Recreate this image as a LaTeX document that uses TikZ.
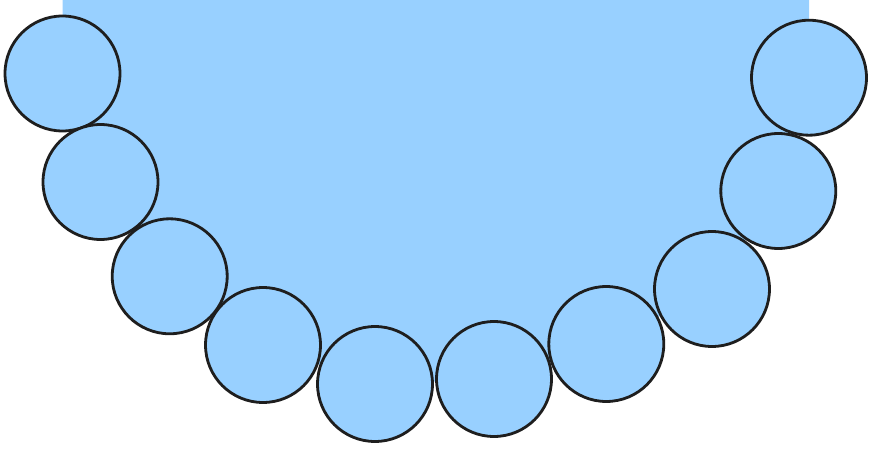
\documentclass[tikz,border=0pt]{standalone}
\usepackage{tikz}
\usetikzlibrary{positioning}
\definecolor{sky}{RGB}{152,208,255}
\definecolor{rim}{RGB}{30,30,30}

\begin{document}
\begin{tikzpicture}[x=0.02cm,y=-0.02cm,
    bead/.style={circle,draw=rim,fill=sky,line width=1.6pt,inner sep=0pt,minimum size=2.3cm}]
        \useasboundingbox (0,0) rectangle (871,449);
        \coordinate (top) at (0,0);
        \foreach \n/\x/\y in {1/62.5/73.5, 2/100.5/182, 3/169.7/276.3, 4/263/345, 5/375/384,
                              6/494/379, 7/606.3/344, 8/712/289, 9/778.3/191, 10/809/77.7}
            \coordinate (p\n) at (\x,\y);
        \fill[sky] (p1 |- top) \foreach \n in {1,...,10} {-- (p\n)} -- (p10 |- top) -- cycle;
        \foreach \n in {1,...,10}
            \node[bead] (c\n) at (p\n) {};
    \end{tikzpicture}
\end{document}
